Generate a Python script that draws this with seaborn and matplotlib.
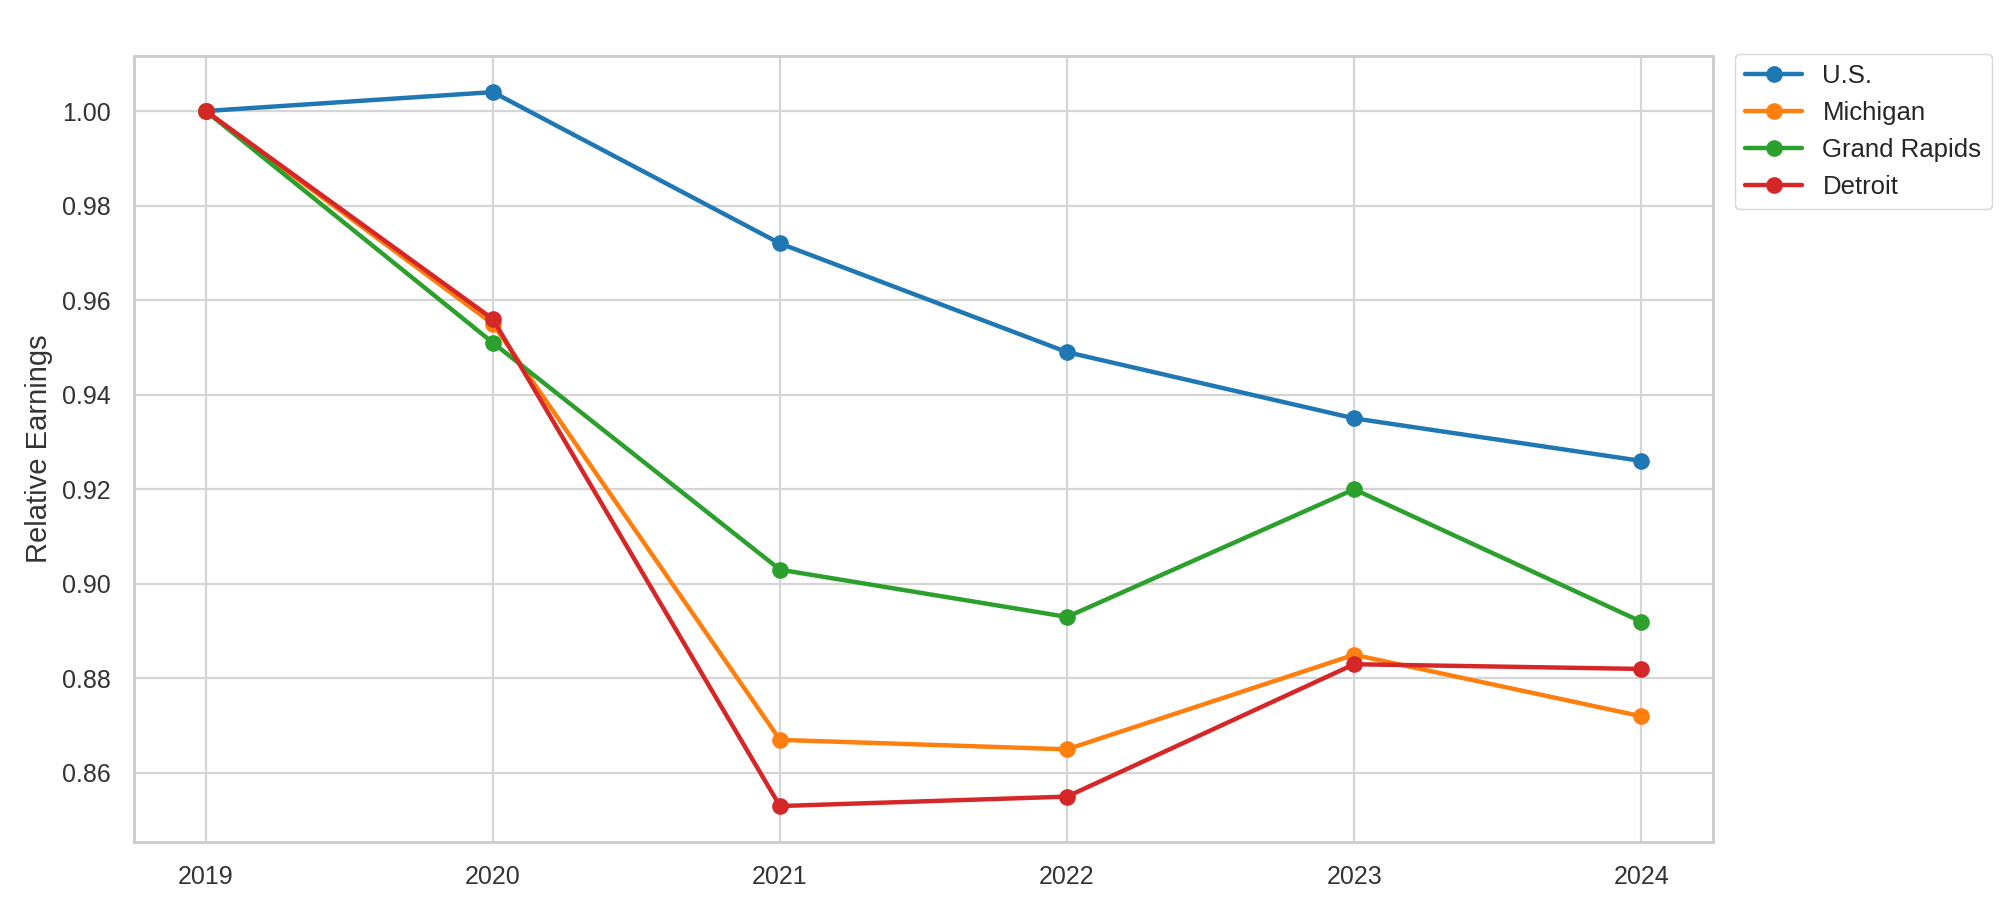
import numpy as np
import pandas as pd
import matplotlib
matplotlib.use('Agg')
import matplotlib.pyplot as plt
import seaborn as sns

years = [2019, 2020, 2021, 2022, 2023, 2024]
us = [1.000, 1.004, 0.972, 0.949, 0.935, 0.926]
michigan = [1.000, 0.955, 0.867, 0.865, 0.885, 0.872]
grand_rapids = [1.000, 0.951, 0.903, 0.893, 0.920, 0.892]
detroit = [1.000, 0.956, 0.853, 0.855, 0.883, 0.882]
regions = ['U.S.', 'Michigan', 'Grand Rapids', 'Detroit']
colors = ['#1f77b4', '#ff7f0e', '#2ca02c', '#d62728']

df = pd.DataFrame({'Year': years, 'U.S.': us, 'Michigan': michigan,
                   'Grand Rapids': grand_rapids, 'Detroit': detroit})
long_df = df.melt(id_vars='Year', var_name='Region', value_name='Relative Earnings')

sns.set_theme(style='whitegrid')
plt.rcParams['font.family'] = ['Liberation Sans', 'DejaVu Sans']

fig, ax = plt.subplots(figsize=(20, 9.1), dpi=100)
fig.subplots_adjust(left=0.067, right=0.8565, top=0.938, bottom=0.075)

sns.lineplot(data=long_df, x='Year', y='Relative Earnings', hue='Region',
             hue_order=regions, palette=colors, marker='o', markersize=12,
             markeredgewidth=0, linewidth=3.2, ax=ax)

ax.set_xticks(years)
ax.set_xlabel('')
ax.set_ylabel('Relative Earnings', fontsize=21, color='#333333', labelpad=6)
ax.tick_params(axis='both', labelsize=18, colors='#333333', pad=11)
for s in ax.spines.values():
    s.set_color('#cccccc')
    s.set_linewidth(2)
ax.grid(color='#d5d5d5', linewidth=1.6)

ax.legend(loc='upper left', bbox_to_anchor=(1.014, 1.003), borderaxespad=0,
          fontsize=18.5, frameon=True, handlelength=2.2)

plt.savefig('out.png', dpi=100)
